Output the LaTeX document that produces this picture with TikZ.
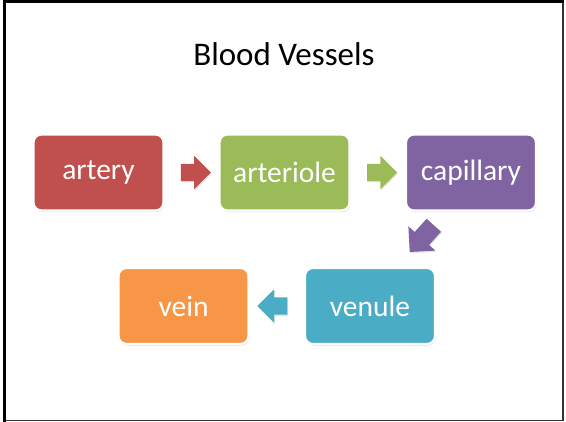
\documentclass[tikz,border=0pt]{standalone}
\usepackage{fontspec}
\setmainfont{Carlito}
\usetikzlibrary{shapes.arrows,shadows,calc}
\definecolor{cred}{HTML}{C0504D}
\definecolor{cgreen}{HTML}{9BBB59}
\definecolor{cpurple}{HTML}{8064A2}
\definecolor{cblue}{HTML}{4BACC6}
\definecolor{corange}{HTML}{F79646}
\tikzset{
  vbox/.style={draw=white, line width=2.2pt, rounded corners=8pt, minimum width=130pt, minimum height=76pt,
    text=white, font=\fontsize{29.5}{34}\selectfont, inner sep=0pt,
    drop shadow={opacity=0.25, shadow xshift=0.8pt, shadow yshift=-1.6pt}},
  barrow/.style={single arrow, draw=none, fill=#1, minimum height=30pt,
    single arrow head extend=8pt, inner xsep=0pt, inner ysep=8.5pt,
    drop shadow={opacity=0.2, shadow xshift=0.8pt, shadow yshift=-1.2pt}},
}
\begin{document}
\begin{tikzpicture}[x=1pt,y=-1pt]
\useasboundingbox (0,0) rectangle (566,422);
\fill[white] (0,0) rectangle (566,422);
\draw[black!80, line width=1.2pt] (563,1.5) -- (563,420.5) -- (4,420.5);
\draw[black, line width=3pt] (4,422) -- (4,1.5) -- (564,1.5);
\node[font=\fontsize{33}{38}\selectfont] (title) at (284,54) {Blood Vessels};
\node[vbox, fill=cred] (artery) at (98.5,172.5) {artery};
\node[vbox, fill=cgreen] (arteriole) at (284.5,172.5) {arteriole};
\node[vbox, fill=cpurple] (capillary) at (471,172.5) {capillary};
\node[vbox, fill=cblue] (venule) at (370,306) {venule};
\node[vbox, fill=corange] (vein) at (183.5,306) {vein};
\node[barrow=cred] (a1) at ($(artery.east)!0.5!(arteriole.west)$) {};
\node[barrow=cgreen] (a2) at ($(arteriole.east)!0.5!(capillary.west)$) {};
\node[barrow=cpurple, rotate=228, minimum height=36pt, inner ysep=9.5pt, single arrow head extend=8.5pt] (a3) at (425,235) {};
\node[barrow=cblue, rotate=180] (a4) at ($(venule.west)!0.5!(vein.east)$) {};
\end{tikzpicture}
\end{document}
